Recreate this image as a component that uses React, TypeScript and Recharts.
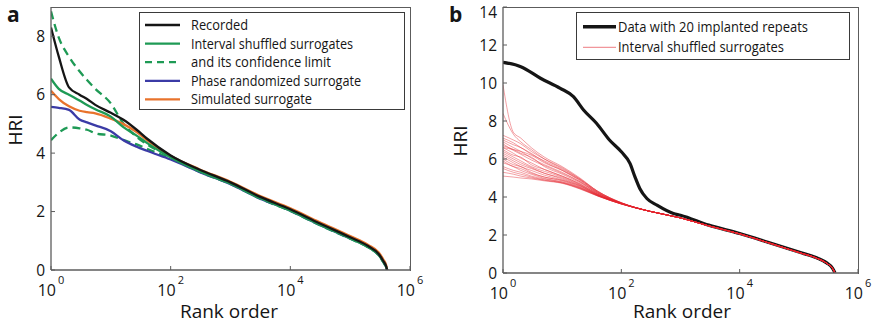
import React from 'react'
import { LineChart, Line, XAxis, YAxis } from 'recharts'

// ---- panel a ----
const ranksA = [1, 1.35, 2, 3, 4, 5.5, 10, 16, 27, 40, 100, 300, 1e3, 3e3, 1e4, 3e4, 1e5, 2e5, 3e5, 3.6e5, 4e5, 4.15e5]
const recorded = [8.3, 7.3, 6.25, 6.0, 5.85, 5.65, 5.38, 5.15, 4.8, 4.5, 3.92, 3.44, 3.0, 2.52, 2.08, 1.61, 1.12, 0.82, 0.55, 0.3, 0.12, 0]
const intervalShuffled = [6.55, 6.2, 6.0, 5.8, 5.65, 5.5, 5.25, 4.9, 4.6, 4.35, 3.85, 3.38, 2.95, 2.47, 2.03, 1.56, 1.08, 0.78, 0.51, 0.27, 0.1, 0]
const confUpper = [8.85, 7.95, 7.3, 6.8, 6.5, 6.2, 5.7, 5.03, 4.56, 4.3, 3.9, 3.4, 2.97, 2.49, 2.05, 1.58, 1.1, 0.8, 0.53, 0.29, 0.11, 0]
const confLower = [4.44, 4.7, 4.88, 4.85, 4.8, 4.68, 4.6, 4.45, 4.3, 4.15, 3.82, 3.36, 2.94, 2.46, 2.02, 1.55, 1.07, 0.77, 0.5, 0.26, 0.09, 0]
const phaseRandomized = [5.58, 5.55, 5.48, 5.15, 5.05, 4.95, 4.75, 4.45, 4.22, 4.08, 3.78, 3.36, 2.94, 2.46, 2.03, 1.56, 1.08, 0.79, 0.52, 0.28, 0.11, 0]
const simulated = [6.13, 5.85, 5.6, 5.45, 5.4, 5.36, 5.18, 5.0, 4.72, 4.45, 3.9, 3.45, 3.02, 2.55, 2.11, 1.65, 1.16, 0.86, 0.6, 0.35, 0.16, 0]

// ---- panel b ----
const ranksRepeats = [1, 2, 4.3, 9.3, 15.5, 23, 38, 63, 100, 140, 170, 205, 270, 400, 760, 1e3, 3e3, 1e4, 3e4, 1e5, 2e5, 3e5, 3.7e5, 4.1e5]
const implanted = [11.09, 10.86, 10.25, 9.72, 9.28, 8.58, 7.88, 7.0, 6.38, 5.77, 5.06, 4.45, 3.92, 3.57, 3.13, 3.04, 2.52, 2.08, 1.62, 1.1, 0.8, 0.52, 0.26, 0]

const ranksSurr = [1, 1.5, 2, 3, 5, 10, 20, 40, 100, 300, 1e3, 3e3, 1e4, 3e4, 1e5, 2e5, 3e5, 3.7e5, 4.1e5]
const surrogateTail = [3.25, 2.9, 2.48, 2.06, 1.6, 1.08, 0.78, 0.5, 0.25, 0]
const surrogateHeads = [
  [9.9, 7.4, 7.1, 6.6, 6.1, 5.6, 5.0, 4.3, 3.7],
  [8.4, 7.3, 6.9, 6.5, 6.0, 5.5, 4.95, 4.3, 3.7],
  [7.25, 7.0, 6.8, 6.4, 6.0, 5.55, 4.95, 4.3, 3.7],
  [7.1, 6.85, 6.6, 6.3, 5.85, 5.4, 4.9, 4.25, 3.68],
  [7.0, 6.75, 6.6, 6.25, 5.9, 5.45, 4.9, 4.25, 3.68],
  [6.9, 6.6, 6.4, 6.05, 5.7, 5.3, 4.8, 4.2, 3.68],
  [6.8, 6.45, 6.25, 5.95, 5.65, 5.25, 4.8, 4.2, 3.67],
  [6.7, 6.5, 6.3, 6.1, 5.6, 5.2, 4.75, 4.2, 3.67],
  [6.6, 6.5, 6.4, 6.2, 5.8, 5.4, 4.85, 4.25, 3.68],
  [6.6, 6.3, 6.05, 5.8, 5.45, 5.1, 4.7, 4.15, 3.66],
  [6.5, 6.2, 6.1, 5.7, 5.45, 5.1, 4.68, 4.15, 3.66],
  [6.4, 6.1, 5.9, 5.6, 5.35, 5.05, 4.65, 4.15, 3.66],
  [6.3, 6.0, 5.8, 5.55, 5.25, 5.0, 4.62, 4.12, 3.65],
  [6.2, 5.9, 5.7, 5.5, 5.25, 4.95, 4.6, 4.12, 3.65],
  [6.1, 5.8, 5.6, 5.4, 5.15, 4.9, 4.58, 4.1, 3.65],
  [6.0, 5.7, 5.6, 5.3, 5.05, 4.88, 4.55, 4.1, 3.65],
  [5.9, 5.6, 5.5, 5.25, 5.05, 4.85, 4.52, 4.08, 3.64],
  [5.8, 5.6, 5.4, 5.2, 4.98, 4.8, 4.5, 4.08, 3.64],
  [5.6, 5.4, 5.3, 5.1, 4.95, 4.78, 4.48, 4.07, 3.64],
  [5.5, 5.3, 5.2, 5.05, 4.9, 4.75, 4.46, 4.06, 3.63],
  [5.3, 5.2, 5.1, 5.0, 4.88, 4.74, 4.44, 4.05, 3.63],
  [5.1, 5.05, 5.0, 4.95, 4.85, 4.72, 4.42, 4.05, 3.63],
]

const xTicks = [1, 1e2, 1e4, 1e6]
const yTicksA = [0, 2, 4, 6, 8]
const yTicksB = [0, 2, 4, 6, 8, 10, 12, 14]

const FONT = '"Open Sans", sans-serif'
const AXIS = '#5c5c5c'
const INK = '#151515'
const GREEN = '#1e9a55'
const BLUE = '#3b3ba6'
const ORANGE = '#e8732c'
const RED = '#e3242f'

const toPoints = (ranks: number[], vals: number[]) => ranks.map((r, i) => ({ r, v: vals[i] }))

function LeftTick({ x, y, payload }: any) {
  // the top label sits a little lower in the original so it isn't clipped
  const ty = Math.max(y, 12.5)
  return (
    <g>
      <line x1={x} y1={y} x2={x + 4} y2={y} stroke={AXIS} />
      <text x={x - 6} y={ty} dy="0.36em" textAnchor="end" fontSize={15.5} fontFamily={FONT} fill={INK}>
        {payload.value}
      </text>
    </g>
  )
}

function BottomTick({ x, y, payload }: any) {
  const exp = Math.round(Math.log10(payload.value))
  return (
    <g>
      <line x1={x} y1={y} x2={x} y2={y - 4} stroke={AXIS} />
      <text x={x} y={y + 26} textAnchor="middle" fontSize={16} fontFamily={FONT} fill={INK}>
        10<tspan dx={2} dy={-12} fontSize={11}>{exp}</tspan>
      </text>
    </g>
  )
}

function axes(yMax: number, yTicks: number[], leftW: number, bottomH: number) {
  const common = {
    allowDataOverflow: true,
    interval: 0 as const,
    tickSize: 0,
    tickMargin: 0,
    tickLine: false,
    axisLine: { stroke: AXIS, strokeWidth: 1.3 },
  }
  return [
    <XAxis key="xb" dataKey="r" type="number" scale="log" domain={[1, 1e6]} ticks={xTicks} height={bottomH} tick={BottomTick} {...common} />,
    <YAxis key="yl" type="number" domain={[0, yMax]} ticks={yTicks} width={leftW} tick={LeftTick} {...common} />,
  ]
}

function PanelA() {
  const series = [
    { name: 'upper', vals: confUpper, color: GREEN, dash: '8 5' },
    { name: 'lower', vals: confLower, color: GREEN, dash: '8 5' },
    { name: 'phase', vals: phaseRandomized, color: BLUE },
    { name: 'sim', vals: simulated, color: ORANGE },
    { name: 'interval', vals: intervalShuffled, color: GREEN },
    { name: 'recorded', vals: recorded, color: INK },
  ]
  return (
    <LineChart width={440} height={327} margin={{ top: 7, right: 30, bottom: 0, left: 0 }}>
      {axes(9, yTicksA, 51, 57)}
      {series.map((s) => (
        <Line
          key={s.name}
          data={toPoints(ranksA, s.vals)}
          dataKey="v"
          type="monotone"
          stroke={s.color}
          strokeWidth={2.3}
          strokeDasharray={s.dash}
          dot={false}
          activeDot={false}
          isAnimationActive={false}
        />
      ))}
    </LineChart>
  )
}

function PanelB() {
  return (
    <LineChart width={434} height={327} margin={{ top: 7, right: 16, bottom: 0, left: 0 }}>
      {axes(14, yTicksB, 63, 54)}
      <Line
        data={toPoints(ranksRepeats, implanted)}
        dataKey="v"
        type="monotone"
        stroke={INK}
        strokeWidth={3.2}
        dot={false}
        activeDot={false}
        isAnimationActive={false}
      />
      {surrogateHeads.map((head, i) => (
        <Line
          key={'s' + i}
          data={toPoints(ranksSurr, head.concat(surrogateTail))}
          dataKey="v"
          type="monotone"
          stroke={RED}
          strokeOpacity={0.55}
          strokeWidth={0.8}
          dot={false}
          activeDot={false}
          isAnimationActive={false}
        />
      ))}
    </LineChart>
  )
}

const legendA = [
  { label: 'Recorded', color: INK, dash: undefined, len: 57 },
  { label: 'Interval shuffled surrogates', color: GREEN, dash: undefined, len: 162 },
  { label: 'and its confidence limit', color: GREEN, dash: '7 5', len: 140 },
  { label: 'Phase randomized surrogate', color: BLUE, dash: undefined, len: 170 },
  { label: 'Simulated surrogate', color: ORANGE, dash: undefined, len: 121 },
]

// top/right edges of the plot boxes, as css borders
const boxEdge = (left: number, top: number, width: number, height: number): React.CSSProperties => ({
  position: 'absolute',
  left,
  top,
  width,
  height,
  borderTop: `1px solid ${AXIS}`,
  borderRight: `1px solid ${AXIS}`,
  boxSizing: 'border-box',
  pointerEvents: 'none',
  zIndex: 5,
})

export default function App() {
  return (
    <div style={{ position: 'absolute', left: 0, top: 0, width: 874, height: 327, background: '#fff', overflow: 'hidden' }}>
      <div style={{ position: 'absolute', left: 0, top: 0, zIndex: 1 }}>
        <PanelA />
      </div>
      <div style={{ position: 'absolute', left: 440, top: 0, zIndex: 1 }}>
        <PanelB />
      </div>
      <div style={boxEdge(51, 6.5, 360, 264)} />
      <div style={boxEdge(503, 6.5, 356, 267)} />
      <svg width={874} height={327} style={{ position: 'absolute', left: 0, top: 0, pointerEvents: 'none', zIndex: 10 }} fontFamily={FONT} fill={INK}>
        <text x={7} y={22} fontSize={21} fontWeight="bold">a</text>
        <text x={449} y={22} fontSize={21} fontWeight="bold">b</text>
        <text x={229} y={318} fontSize={19} textAnchor="middle">Rank order</text>
        <text x={682} y={318} fontSize={19} textAnchor="middle">Rank order</text>
        <text transform="translate(22,130) rotate(-90)" fontSize={19} textAnchor="middle">HRI</text>
        <text transform="translate(467,141) rotate(-90)" fontSize={19} textAnchor="middle">HRI</text>

        <rect x={139.5} y={12.5} width={265} height={97} fill="#fff" stroke="#3a3a3a" />
        {legendA.map((e, i) => {
          const cy = 25 + i * 18.6
          return (
            <g key={e.label}>
              <line x1={145} x2={180} y1={cy} y2={cy} stroke={e.color} strokeWidth={2.3} strokeDasharray={e.dash} />
              <text x={191} y={cy + 5} fontSize={14.5} textLength={e.len} lengthAdjust="spacingAndGlyphs">{e.label}</text>
            </g>
          )
        })}

        <rect x={576.5} y={12.5} width={273} height={47} fill="#fff" stroke="#3a3a3a" />
        <line x1={583} x2={616} y1={26.7} y2={26.7} stroke={INK} strokeWidth={3.5} />
        <text x={618} y={31.7} fontSize={14.5} textLength={190} lengthAdjust="spacingAndGlyphs">Data with 20 implanted repeats</text>
        <line x1={583} x2={616} y1={47.3} y2={47.3} stroke={RED} strokeOpacity={0.6} strokeWidth={1} />
        <text x={618} y={52.3} fontSize={14.5} textLength={166} lengthAdjust="spacingAndGlyphs">Interval shuffled surrogates</text>
      </svg>
    </div>
  )
}
